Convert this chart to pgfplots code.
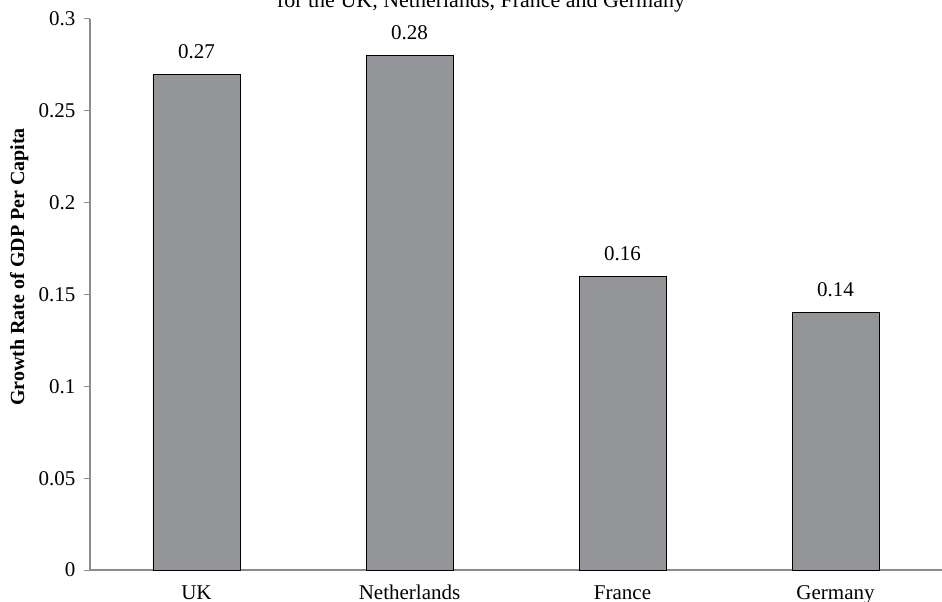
\documentclass[border=0pt]{standalone}
\usepackage{pgfplots}
\pgfplotsset{compat=1.18}
\usepackage{fontspec}
\setmainfont{Liberation Serif}
\definecolor{barfill}{RGB}{147,149,152}
\definecolor{axisgray}{RGB}{140,140,140}
\begin{document}
\begin{tikzpicture}
\begin{axis}[
  name=ax,
  at={(0,0)}, anchor=south west,
  scale only axis,
  width=852bp, height=551bp,
  xmin=-0.5, xmax=3.5,
  ymin=0, ymax=0.3,
  axis x line*=bottom,
  axis y line*=left,
  axis line style={draw=axisgray, line width=1.2pt},
  xtick={0,1,2,3},
  xticklabels={UK,Netherlands,France,Germany},
  x tick style={draw=none},
  ytick={0,0.05,0.1,0.15,0.2,0.25,0.3},
  yticklabels={0,0.05,0.1,0.15,0.2,0.25,0.3},
  y tick style={draw=axisgray, line width=1pt},
  tick align=outside,
  major tick length=6bp,
  tick label style={font=\fontsize{21bp}{25bp}\selectfont},
  xticklabel style={anchor=north, inner sep=0pt, text height=14bp, text depth=5bp, yshift=-9bp},
  yticklabel style={xshift=-5bp},
  ylabel={\textbf{Growth Rate of GDP Per Capita}},
  every axis y label/.style={at={(axis description cs:-0.083,0.55)}, rotate=90, anchor=center, font=\fontsize{20bp}{24bp}\selectfont},
  ybar,
  bar width=87bp,
  nodes near coords,
  every node near coord/.append style={font=\fontsize{21bp}{25bp}\selectfont, yshift=12bp},
  point meta=explicit symbolic,
  clip=false,
]
\addplot[fill=barfill, draw=black, line width=0.8pt] coordinates {
  (0,0.27) [0.27]
  (1,0.28) [0.28]
  (2,0.16) [0.16]
  (3,0.14) [0.14]
};
\end{axis}
\node[anchor=base, font=\fontsize{22bp}{26bp}\selectfont] at ([xshift=391bp, yshift=11bp]ax.north west) {for the UK, Netherlands, France and Germany};
\pgfresetboundingbox
\useasboundingbox ([xshift=-90bp, yshift=-32bp]ax.south west) rectangle ([xshift=852bp, yshift=19bp]ax.north west);
\end{tikzpicture}
\end{document}
